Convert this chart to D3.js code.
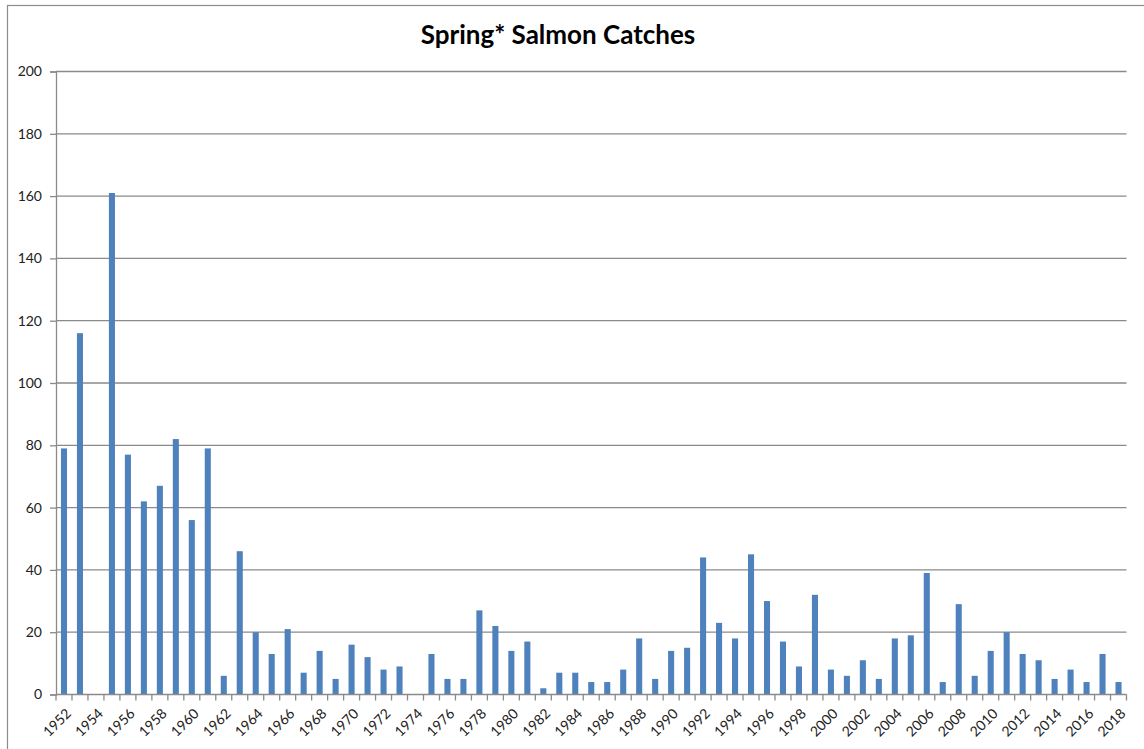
<!DOCTYPE html>
<html>
<head>
<meta charset="utf-8">
<script src="https://cdn.jsdelivr.net/npm/d3@7"></script>
<style>
  html, body { margin: 0; padding: 0; background: #fff; }
  svg { display: block; }
</style>
</head>
<body>
<svg id="chart" width="1144" height="749"></svg>
<script>
// Catch years and annual spring salmon counts
const years = d3.range(1952, 2019).map(String);
const catches = [
  79, 116, 0, 161, 77, 62, 67, 82, 56, 79,
  6, 46, 20, 13, 21, 7, 14, 5, 16, 12,
  8, 9, 0, 13, 5, 5, 27, 22, 14, 17,
  2, 7, 7, 4, 4, 8, 18, 5, 14, 15,
  44, 23, 18, 45, 30, 17, 9, 32, 8, 6,
  11, 5, 18, 19, 39, 4, 29, 6, 14, 20,
  13, 11, 5, 8, 4, 13, 4
];
const yTicks = [0, 20, 40, 60, 80, 100, 120, 140, 160, 180, 200];
const labelYears = years.filter((d, i) => i % 2 === 0);

const data = years.map((y, i) => ({ year: y, value: catches[i] }));

const svg = d3.select("#chart");
const W = 1144, H = 749;
const margin = { left: 56, right: W - 1126.5, top: 71.5, bottom: H - 694.5 };
const innerW = W - margin.left - margin.right;
const innerH = H - margin.top - margin.bottom;

// outer chart frame
svg.append("rect")
  .attr("x", 7.5).attr("y", 5.5)
  .attr("width", W + 20).attr("height", H + 20)
  .attr("fill", "none").attr("stroke", "#8c8c8c").attr("stroke-width", 1.2);

// title
svg.append("text")
  .attr("x", 558).attr("y", 44)
  .attr("text-anchor", "middle")
  .attr("font-family", "Lato, 'Open Sans', sans-serif")
  .attr("font-weight", "bold")
  .attr("font-size", 26)
  .attr("fill", "#000")
  .text("Spring* Salmon Catches");

const g = svg.append("g").attr("transform", `translate(${margin.left},${margin.top})`);

const x = d3.scaleBand().domain(years).range([0, innerW]).paddingInner(0.62).paddingOuter(0.31);
const y = d3.scaleLinear().domain([0, 200]).range([innerH, 0]);

// horizontal gridlines
g.append("g")
  .selectAll("line")
  .data(yTicks.filter(t => t > 0))
  .join("line")
  .attr("x1", 0).attr("x2", innerW)
  .attr("y1", d => y(d)).attr("y2", d => y(d))
  .attr("stroke", "#8a8a8a").attr("stroke-width", 1.3);

// bars
g.append("g")
  .selectAll("rect")
  .data(data)
  .join("rect")
  .attr("x", d => x(d.year))
  .attr("y", d => y(d.value))
  .attr("width", x.bandwidth())
  .attr("height", d => innerH - y(d.value))
  .attr("fill", "#4f81bd");

// y axis
const yAxis = g.append("g")
  .call(d3.axisLeft(y).tickValues(yTicks).tickSize(6).tickPadding(8));
yAxis.select(".domain").attr("stroke", "#8a8a8a").attr("stroke-width", 1.3);
yAxis.selectAll(".tick line").attr("stroke", "#8a8a8a").attr("stroke-width", 1.3);
yAxis.selectAll(".tick text")
  .attr("font-family", "Lato, 'Open Sans', sans-serif")
  .attr("font-size", 14)
  .attr("fill", "#222");

// x axis: ticks sit on category boundaries, labels every other year
const boundaries = d3.range(years.length + 1).map(i => i * innerW / years.length);
const xAxisG = g.append("g").attr("transform", `translate(0,${innerH})`);
xAxisG.append("line")
  .attr("x1", 0).attr("x2", innerW)
  .attr("stroke", "#8a8a8a").attr("stroke-width", 1.3);
xAxisG.selectAll("line.tk")
  .data(boundaries)
  .join("line")
  .attr("class", "tk")
  .attr("x1", d => d).attr("x2", d => d)
  .attr("y1", 0).attr("y2", 6)
  .attr("stroke", "#8a8a8a").attr("stroke-width", 1.3);
xAxisG.selectAll("text")
  .data(labelYears)
  .join("text")
  .attr("transform", d => `translate(${x(d) + x.bandwidth() / 2 + 1},${13}) rotate(-45)`)
  .attr("text-anchor", "end")
  .attr("dy", "0.7em")
  .attr("font-family", "Lato, 'Open Sans', sans-serif")
  .attr("font-size", 14)
  .attr("fill", "#222")
  .text(d => d);
</script>
</body>
</html>
